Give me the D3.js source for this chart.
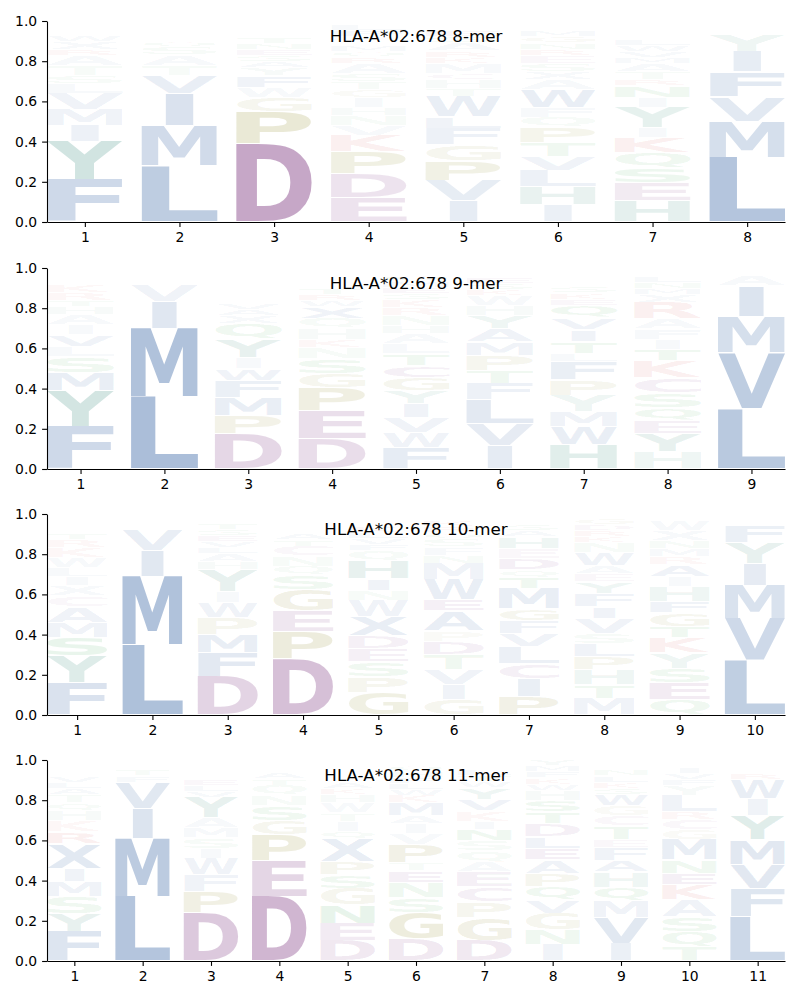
<!DOCTYPE html>
<html>
<head>
<meta charset="utf-8">
<script src="https://cdn.jsdelivr.net/npm/d3@7"></script>
<style>
  body { margin: 0; background: #fff; }
  text { font-family: "DejaVu Sans", sans-serif; }
</style>
</head>
<body>
<svg id="chart" width="800" height="1000"></svg>
<script>
const allele = 'HLA-A*02:678';
const peptideLengths = [8, 9, 10, 11];
const yTicks = [0, 0.2, 0.4, 0.6, 0.8, 1.0];

// residue frequencies per position, listed bottom -> top of each stack
const mer8 = [
    [['F', .21], ['Y', .19], ['I', .08], ['M', .08], ['V', .08], ['L', .05], ['S', .04], ['T', .05], ['A', .05], ['R', .03], ['X', .04], ['W', .03], ['H', .02], ['Q', .02], ['E', .01], ['N', .01], ['G', .01]],
    [['L', .28], ['M', .20], ['I', .16], ['V', .09], ['T', .05], ['A', .05], ['S', .04], ['Q', .03], ['C', .02], ['F', .02], ['Y', .02], ['K', .01], ['N', .01], ['E', .01], ['R', .01]],
    [['D', .39], ['P', .16], ['G', .07], ['W', .05], ['F', .06], ['Y', .04], ['A', .03], ['S', .03], ['E', .03], ['N', .03], ['T', .03], ['L', .02], ['M', .02], ['Q', .02], ['V', .02]],
    [['E', .12], ['D', .12], ['P', .11], ['K', .08], ['V', .05], ['N', .05], ['H', .04], ['I', .05], ['G', .04], ['T', .04], ['S', .04], ['A', .05], ['R', .03], ['Q', .03], ['M', .03], ['Y', .02], ['W', .02], ['F', .03], ['L', .03], ['C', .02]],
    [['I', .105], ['V', .10], ['P', .10], ['G', .08], ['F', .08], ['L', .06], ['W', .10], ['T', .04], ['H', .045], ['C', .03], ['M', .05], ['K', .03], ['R', .03], ['A', .04], ['S', .03], ['E', .03], ['Q', .02], ['N', .02]],
    [['I', .085], ['H', .09], ['L', .08], ['V', .07], ['T', .07], ['P', .075], ['Q', .05], ['F', .05], ['W', .09], ['A', .05], ['X', .04], ['S', .04], ['E', .04], ['R', .03], ['N', .03], ['G', .03], ['M', .03], ['D', .02], ['Y', .02], ['C', .01]],
    [['H', .105], ['E', .09], ['S', .075], ['Q', .075], ['K', .075], ['I', .05], ['Y', .10], ['I', .05], ['N', .06], ['R', .03], ['T', .04], ['A', .04], ['M', .03], ['V', .03], ['W', .03], ['L', .03], ['F', .02], ['G', .02], ['D', .02], ['C', .01], ['P', .02]],
    [['L', .32], ['M', .18], ['V', .125], ['F', .125], ['I', .10], ['Y', .085], ['A', .025], ['T', .02], ['C', .02]]
];

const mer9 = [
    [['F', .21], ['Y', .18], ['M', .09], ['S', .08], ['L', .05], ['V', .06], ['I', .05], ['A', .05], ['H', .04], ['T', .03], ['R', .04], ['K', .04], ['W', .02], ['E', .02], ['Q', .02], ['N', .015]],
    [['L', .36], ['M', .34], ['I', .135], ['V', .08], ['T', .025], ['F', .02], ['A', .02]],
    [['D', .175], ['P', .09], ['M', .09], ['F', .085], ['W', .06], ['I', .055], ['Y', .09], ['Q', .08], ['X', .04], ['A', .03], ['V', .03], ['L', .02], ['S', .02], ['E', .02], ['K', .02], ['T', .02], ['H', .01], ['G', .01], ['N', .01], ['R', .02], ['C', .02]],
    [['D', .15], ['E', .14], ['P', .115], ['G', .07], ['S', .075], ['N', .055], ['K', .04], ['H', .055], ['Q', .05], ['X', .06], ['W', .03], ['R', .03], ['T', .03], ['I', .02], ['V', .02], ['L', .02], ['M', .02], ['A', .02]],
    [['F', .105], ['W', .075], ['V', .075], ['I', .07], ['Y', .065], ['G', .066], ['C', .058], ['T', .058], ['L', .05], ['A', .05], ['H', .04], ['N', .05], ['R', .04], ['K', .04], ['S', .03], ['E', .03], ['M', .03], ['Q', .03], ['D', .025]],
    [['I', .115], ['V', .11], ['L', .12], ['F', .08], ['T', .066], ['P', .075], ['M', .066], ['A', .065], ['Y', .065], ['H', .05], ['W', .05], ['K', .03], ['S', .03], ['E', .03], ['R', .02], ['Q', .02]],
    [['H', .12], ['W', .09], ['M', .075], ['Y', .08], ['P', .08], ['F', .09], ['L', .04], ['T', .06], ['I', .06], ['V', .06], ['Q', .06], ['E', .03], ['K', .03], ['S', .03], ['R', .02], ['N', .02], ['D', .02], ['A', .02]],
    [['H', .086], ['Y', .09], ['E', .066], ['Q', .063], ['S', .075], ['C', .075], ['K', .083], ['T', .058], ['I', .05], ['F', .05], ['A', .05], ['R', .083], ['X', .04], ['M', .03], ['N', .03], ['L', .03], ['W', .02], ['V', .02]],
    [['L', .30], ['V', .28], ['M', .18], ['I', .15], ['A', .05], ['T', .02], ['F', .02]]
];

const mer10 = [
    [['F', .16], ['Y', .135], ['S', .09], ['M', .075], ['A', .08], ['C', .055], ['X', .05], ['I', .045], ['L', .045], ['W', .05], ['K', .05], ['R', .04], ['T', .03], ['G', .025], ['H', .025], ['Q', .02], ['N', .015]],
    [['L', .35], ['M', .34], ['I', .13], ['V', .10], ['F', .02], ['T', .02], ['A', .015]],
    [['D', .19], ['F', .12], ['M', .09], ['P', .083], ['W', .075], ['I', .055], ['Y', .108], ['H', .04], ['A', .04], ['L', .03], ['V', .03], ['E', .03], ['S', .03], ['T', .03], ['K', .02], ['N', .02]],
    [['D', .28], ['P', .135], ['E', .105], ['G', .105], ['S', .07], ['Q', .045], ['N', .05], ['C', .05], ['T', .03], ['A', .03], ['V', .02], ['K', .02], ['R', .02], ['Y', .02], ['L', .02]],
    [['G', .11], ['P', .08], ['S', .075], ['E', .063], ['D', .066], ['X', .095], ['W', .08], ['N', .05], ['I', .058], ['H', .09], ['Q', .05], ['F', .03], ['V', .03], ['L', .03], ['K', .03], ['R', .02], ['A', .02], ['M', .01]],
    [['G', .076], ['I', .075], ['V', .075], ['T', .075], ['D', .066], ['P', .05], ['A', .10], ['E', .058], ['W', .10], ['M', .08], ['N', .04], ['F', .04], ['S', .04], ['Q', .03], ['R', .03], ['K', .03], ['L', .02]],
    [['P', .09], ['I', .09], ['C', .075], ['L', .083], ['V', .066], ['F', .066], ['G', .058], ['M', .10], ['T', .058], ['Q', .035], ['D', .058], ['E', .05], ['H', .058], ['A', .03], ['S', .03], ['K', .02], ['R', .02]],
    [['M', .083], ['T', .066], ['H', .075], ['P', .066], ['L', .066], ['S', .05], ['V', .075], ['I', .058], ['F', .066], ['Y', .058], ['E', .04], ['A', .04], ['W', .066], ['N', .05], ['K', .03], ['R', .03], ['D', .03], ['G', .03], ['C', .02]],
    [['Q', .075], ['E', .083], ['S', .075], ['Y', .075], ['K', .075], ['T', .058], ['G', .066], ['F', .058], ['H', .075], ['I', .05], ['A', .058], ['R', .04], ['M', .04], ['N', .04], ['X', .05], ['W', .05], ['L', .02], ['V', .01]],
    [['L', .27], ['V', .21], ['M', .165], ['I', .11], ['Y', .105], ['F', .085], ['A', .02], ['T', .02], ['C', .015]]
];

const mer11 = [
    [['F', .146], ['Y', .09], ['S', .083], ['M', .075], ['I', .066], ['X', .125], ['R', .06], ['K', .055], ['H', .05], ['Q', .04], ['T', .04], ['A', .03], ['L', .03], ['V', .03], ['W', .02], ['E', .02], ['N', .02], ['D', .01]],
    [['L', .32], ['M', .29], ['I', .15], ['V', .13], ['F', .03], ['T', .03], ['A', .02], ['S', .02]],
    [['D', .24], ['P', .105], ['F', .083], ['W', .08], ['I', .05], ['S', .055], ['M', .05], ['A', .05], ['Y', .10], ['V', .03], ['L', .03], ['E', .03], ['N', .02], ['T', .02], ['Q', .02], ['K', .02], ['H', .01]],
    [['D', .32], ['E', .18], ['P', .13], ['G', .07], ['S', .075], ['N', .05], ['Q', .05], ['T', .03], ['A', .03], ['K', .02], ['R', .02], ['V', .015]],
    [['D', .10], ['E', .088], ['N', .09], ['G', .083], ['S', .066], ['P', .066], ['X', .113], ['Q', .04], ['I', .05], ['T', .04], ['W', .05], ['H', .04], ['K', .03], ['A', .03], ['R', .02], ['L', .02], ['V', .02], ['M', .02], ['F', .01]],
    [['D', .11], ['G', .13], ['S', .075], ['N', .075], ['E', .058], ['T', .04], ['P', .09], ['V', .055], ['I', .05], ['A', .04], ['M', .066], ['K', .035], ['W', .03], ['L', .03], ['F', .03], ['H', .03], ['Q', .03], ['C', .02]],
    [['D', .10], ['G', .113], ['P', .08], ['C', .075], ['E', .075], ['A', .05], ['Q', .055], ['S', .05], ['N', .058], ['I', .04], ['K', .05], ['V', .058], ['Y', .058], ['W', .03], ['T', .03], ['L', .03], ['H', .02], ['R', .02]],
    [['I', .08], ['N', .075], ['G', .083], ['V', .066], ['Q', .066], ['P', .066], ['A', .066], ['E', .058], ['L', .058], ['D', .066], ['T', .058], ['S', .058], ['H', .05], ['W', .03], ['K', .03], ['F', .03], ['M', .03], ['Y', .03]],
    [['I', .088], ['V', .13], ['M', .083], ['Q', .066], ['H', .075], ['A', .058], ['F', .066], ['E', .04], ['T', .066], ['C', .05], ['G', .05], ['W', .058], ['S', .03], ['K', .03], ['L', .03], ['N', .03], ['R', .02], ['D', .02]],
    [['T', .07], ['Q', .075], ['S', .075], ['A', .083], ['K', .075], ['E', .058], ['N', .066], ['M', .10], ['G', .05], ['C', .05], ['R', .04], ['L', .08], ['Y', .05], ['F', .03], ['V', .03], ['I', .03], ['H', .025]],
    [['L', .22], ['F', .14], ['V', .12], ['M', .125], ['Y', .12], ['I', .083], ['W', .095], ['R', .03], ['A', .025], ['T', .02]]
];

const merData = [mer8, mer9, mer10, mer11];

// colour groups
const groupResidues = {
    hydrophobic: 'AVLIMFWX',
    acidic: 'DEC',
    aromatic: 'YH',
    special: 'PG',
    basic: 'KR',
    polar: 'STNQ'
};
const groupColors = {
    hydrophobic: '#174c95',
    acidic: '#6c1c70',
    aromatic: '#0b715d',
    special: '#7a7400',
    basic: '#c41010',
    polar: '#10902a'
};
const residueColor = {};
Object.keys(groupResidues).forEach(function(g) {
    groupResidues[g].split('').forEach(function(r) { residueColor[r] = groupColors[g]; });
});

const axLeft = 47, axRight = 785, axHeight = 201;
const axTops = [21, 268, 514, 760];
const tickFont = 13.9, titleFont = 16.7;

// tight glyph boxes, measured once on a canvas
const ctx = document.createElement('canvas').getContext('2d');
ctx.font = 'bold 100px "DejaVu Sans"';
const boxes = {};
function glyphBox(ch) {
    if (!boxes[ch]) {
        const m = ctx.measureText(ch);
        boxes[ch] = {
            l: m.actualBoundingBoxLeft,
            w: m.actualBoundingBoxLeft + m.actualBoundingBoxRight,
            a: m.actualBoundingBoxAscent,
            h: m.actualBoundingBoxAscent + m.actualBoundingBoxDescent
        };
    }
    return boxes[ch];
}
const maxStretch = glyphBox('E'); // narrow glyphs are not stretched more than E

const svg = d3.select('#chart');

peptideLengths.forEach(function(len, k) {
    const top = axTops[k];
    const cols = merData[k];

    const x = d3.scaleLinear()
        .domain([0.6, len + 0.4])
        .range([axLeft, axRight]);

    const y = d3.scaleLinear()
        .domain([0, 1])
        .range([top + axHeight, top]);

    const ax = svg.append('g').attr('class', 'panel');

    // stack the residues of each position
    const glyphs = [];
    cols.forEach(function(col, i) {
        let cum = 0;
        col.forEach(function(d) {
            glyphs.push({ pos: i + 1, res: d[0], p: d[1], y0: cum, y1: cum + d[1] });
            cum += d[1];
        });
    });

    ax.append('g')
        .selectAll('text')
        .data(glyphs)
        .join('text')
        .text(d => d.res)
        .attr('font-size', 100)
        .attr('font-weight', 'bold')
        .attr('fill', d => residueColor[d.res])
        .attr('fill-opacity', d => d.p)
        .attr('transform', function(d) {
            const b = glyphBox(d.res);
            const x0 = x(d.pos - 0.4);
            const cw = x(d.pos + 0.4) - x0;
            const yb = y(d.y0), yt = y(d.y1);
            const pad = Math.min(0.6, (yb - yt) * 0.1);
            const sx = Math.min(cw / b.w, cw / maxStretch.w);
            const sy = (yb - yt - 2 * pad) / b.h;
            const gx = x0 + (cw - b.w * sx) / 2;
            return 'translate(' + gx + ',' + (yt + pad) + ') scale(' + sx + ',' + sy + ') translate(' + b.l + ',' + b.a + ')';
        });

    const yAxis = d3.axisLeft(y)
        .tickValues(yTicks)
        .tickFormat(d3.format('.1f'))
        .tickSize(4.9)
        .tickSizeOuter(0)
        .tickPadding(4.9);

    const xAxis = d3.axisBottom(x)
        .tickValues(d3.range(1, len + 1))
        .tickFormat(d3.format('d'))
        .tickSize(4.9)
        .tickSizeOuter(0)
        .tickPadding(4.9);

    const gY = ax.append('g')
        .attr('transform', 'translate(' + axLeft + ',0)')
        .call(yAxis);

    const gX = ax.append('g')
        .attr('transform', 'translate(0,' + (top + axHeight) + ')')
        .call(xAxis);

    [gX, gY].forEach(function(g) {
        g.attr('font-family', '"DejaVu Sans", sans-serif').attr('font-size', tickFont);
        g.selectAll('path, line').attr('stroke', '#000').attr('stroke-width', 1.1);
        g.selectAll('text').attr('fill', '#000');
    });

    ax.append('text')
        .attr('x', (axLeft + axRight) / 2)
        .attr('y', top + 20.7)
        .attr('text-anchor', 'middle')
        .attr('font-size', titleFont)
        .attr('fill', '#000')
        .text(allele + ' ' + len + '-mer');
});
</script>
</body>
</html>
